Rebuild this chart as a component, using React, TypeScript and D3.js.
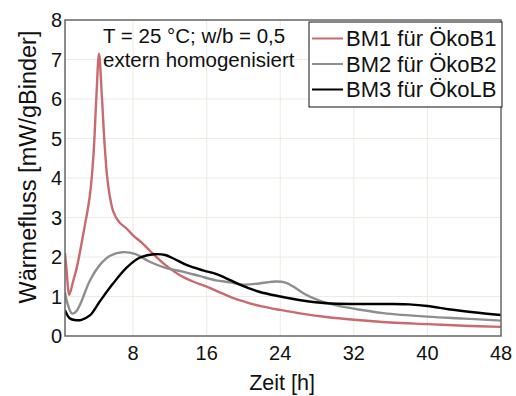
import * as d3 from "d3";
import { useRef, useEffect } from "react";

// Zeit [h] / Wärmefluss [mW/gBinder]
const bm1Hours = [0.6, 0.8, 1.05, 1.5, 1.9, 2.6, 3.3, 3.7, 4.0, 4.3, 4.6, 4.95, 5.3, 5.85, 6.5, 7.3, 8, 9, 10, 11.5, 13, 14.5, 16, 17.5, 19, 20.5, 22, 24, 26.5, 29, 32, 36, 40, 44, 48];
const bm1Values = [2.1, 1.6, 1.04, 1.4, 1.75, 2.6, 3.55, 4.6, 6.0, 7.15, 6.1, 4.7, 3.8, 3.15, 2.88, 2.72, 2.55, 2.35, 2.12, 1.8, 1.55, 1.38, 1.25, 1.1, 0.95, 0.84, 0.75, 0.66, 0.56, 0.48, 0.41, 0.34, 0.3, 0.26, 0.23];

const bm2Hours = [0.6, 0.9, 1.35, 1.8, 2.3, 3.3, 4.4, 5.5, 6.8, 8.2, 9.8, 11.6, 13.4, 15.2, 17, 18.5, 20, 21.7, 23.5, 24.5, 25.5, 26.6, 28.2, 30, 32.5, 35.2, 40, 44, 48];
const bm2Values = [1.1, 0.8, 0.57, 0.62, 0.83, 1.4, 1.8, 2.03, 2.12, 2.08, 1.88, 1.72, 1.63, 1.52, 1.41, 1.36, 1.3, 1.33, 1.38, 1.36, 1.24, 1.07, 0.9, 0.78, 0.67, 0.58, 0.49, 0.44, 0.39];

const bm3Hours = [0.6, 1.1, 1.8, 2.4, 3.3, 4.4, 5.8, 7.3, 8.7, 10.3, 11.5, 12.5, 13.8, 15.6, 17, 18.5, 19.6, 21.7, 24, 26.4, 29, 32.5, 36, 38, 40, 42.5, 45, 48];
const bm3Values = [0.65, 0.45, 0.4, 0.41, 0.52, 0.88, 1.32, 1.73, 1.98, 2.07, 2.05, 1.95, 1.8, 1.66, 1.57, 1.42, 1.3, 1.12, 1.0, 0.9, 0.83, 0.81, 0.81, 0.8, 0.76, 0.67, 0.6, 0.53];

const seriesNames = ["BM1 für ÖkoB1", "BM2 für ÖkoB2", "BM3 für ÖkoLB"];
const seriesColors = ["#c96a6e", "#8e8e8e", "#000000"];

const xTicks = [8, 16, 24, 32, 40, 48];
const yTicks = [0, 1, 2, 3, 4, 5, 6, 7, 8];

const noteLines = ["T = 25 °C; w/b = 0,5", "extern homogenisiert"];

export default function App({
  width = 516,
  height = 396,
  marginTop = 20,
  marginRight = 15,
  marginBottom = 60,
  marginLeft = 65
}) {
  const svgRef = useRef(null);

  useEffect(() => {
    const svg = d3.select(svgRef.current);
    svg.selectAll("*").remove();

    const font = "'Liberation Sans', Arial, sans-serif";
    const x = d3.scaleLinear().domain([0.6, 48]).range([marginLeft, width - marginRight]);
    const y = d3.scaleLinear().domain([0, 8]).range([height - marginBottom, marginTop]);

    const series = [
      d3.zip(bm1Hours, bm1Values),
      d3.zip(bm2Hours, bm2Values),
      d3.zip(bm3Hours, bm3Values)
    ];

    svg.append("rect").attr("width", width).attr("height", height).attr("fill", "white");

    // grid
    const grid = svg.append("g").attr("stroke", "#ecebe0").attr("stroke-width", 1);
    grid.selectAll("line.v")
      .data(xTicks.slice(0, -1))
      .join("line")
      .attr("x1", (d) => x(d)).attr("x2", (d) => x(d))
      .attr("y1", y(0)).attr("y2", y(8));
    grid.selectAll("line.h")
      .data(yTicks.slice(1, -1))
      .join("line")
      .attr("class", "h")
      .attr("x1", x.range()[0]).attr("x2", x.range()[1])
      .attr("y1", (d) => y(d)).attr("y2", (d) => y(d));

    svg.append("clipPath").attr("id", "plot-clip")
      .append("rect")
      .attr("x", x.range()[0]).attr("y", y(8))
      .attr("width", x.range()[1] - x.range()[0])
      .attr("height", y(0) - y(8));

    const line = d3.line()
      .x((d) => x(d[0]))
      .y((d) => y(d[1]))
      .curve(d3.curveCatmullRom.alpha(0.5));

    svg.append("g")
      .attr("clip-path", "url(#plot-clip)")
      .selectAll("path")
      .data(series)
      .join("path")
      .attr("fill", "none")
      .attr("stroke", (d, i) => seriesColors[i])
      .attr("stroke-width", 2.4)
      .attr("stroke-linejoin", "round")
      .attr("d", line);

    // frame
    svg.append("rect")
      .attr("x", x.range()[0]).attr("y", y(8))
      .attr("width", x.range()[1] - x.range()[0])
      .attr("height", y(0) - y(8))
      .attr("fill", "none")
      .attr("stroke", "#666")
      .attr("stroke-width", 1.5);

    // tick labels
    svg.append("g")
      .selectAll("text")
      .data(xTicks)
      .join("text")
      .attr("x", (d) => x(d))
      .attr("y", 360)
      .attr("text-anchor", "middle")
      .style("font-family", font)
      .style("font-size", "20px")
      .attr("fill", "#111")
      .text((d) => d);

    svg.append("g")
      .selectAll("text")
      .data(yTicks)
      .join("text")
      .attr("x", 62)
      .attr("y", (d) => y(d))
      .attr("dy", "0.35em")
      .attr("text-anchor", "end")
      .style("font-family", font)
      .style("font-size", "20px")
      .attr("fill", "#111")
      .text((d) => d);

    // axis titles
    svg.append("text")
      .attr("x", 282)
      .attr("y", 390)
      .attr("text-anchor", "middle")
      .style("font-family", font)
      .style("font-size", "21.5px")
      .attr("fill", "#111")
      .text("Zeit [h]");

    svg.append("text")
      .attr("transform", "translate(36,167) rotate(-90)")
      .attr("text-anchor", "middle")
      .style("font-family", font)
      .style("font-size", "23.5px")
      .attr("fill", "#111")
      .text("Wärmefluss [mW/gBinder]");

    // annotation
    svg.append("g")
      .selectAll("text")
      .data(noteLines)
      .join("text")
      .attr("x", 103)
      .attr("y", (d, i) => 43 + i * 24)
      .style("font-family", font)
      .style("font-size", "20.5px")
      .attr("fill", "#111")
      .text((d) => d);

    // legend
    const legend = svg.append("g").attr("transform", "translate(309,22)");
    legend.append("rect")
      .attr("width", 193).attr("height", 85)
      .attr("fill", "white")
      .attr("stroke", "#111")
      .attr("stroke-width", 1);
    legend.selectAll("line")
      .data(seriesNames)
      .join("line")
      .attr("x1", 3).attr("x2", 34)
      .attr("y1", (d, i) => 16.5 + i * 25.5)
      .attr("y2", (d, i) => 16.5 + i * 25.5)
      .attr("stroke", (d, i) => seriesColors[i])
      .attr("stroke-width", 2);
    legend.selectAll("text")
      .data(seriesNames)
      .join("text")
      .attr("x", 37)
      .attr("y", (d, i) => 24 + i * 25.5)
      .style("font-family", font)
      .style("font-size", "22px")
      .attr("fill", "#111")
      .text((d) => d);
  }, [width, height]);

  return (
    <svg
      ref={svgRef}
      width={width}
      height={height}
      style={{ position: "absolute", left: 0, top: 0 }}
    />
  );
}
